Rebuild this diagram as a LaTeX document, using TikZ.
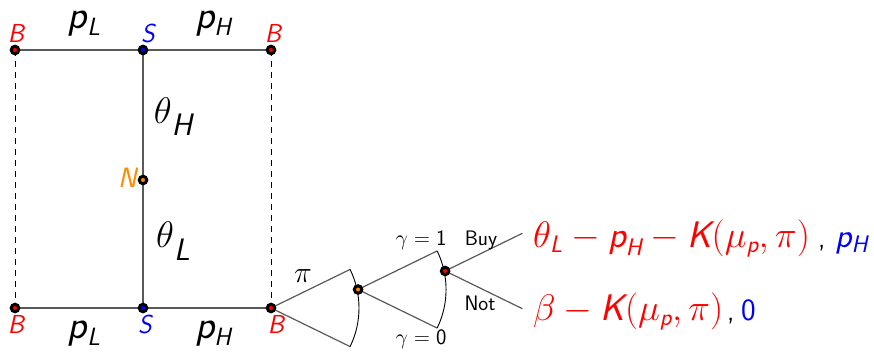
\RequirePackage{fix-cm}
\documentclass[tikz,border=0pt]{standalone}
\usepackage{amsmath}
\usepackage{fontspec}
\usetikzlibrary{calc}
\DeclareMathSizes{37}{37}{24}{18}
\newcommand\sv[1]{\text{\sffamily\itshape #1}}
% base, subscript text, subscript size, drop
\newcommand\tlab[4]{#1\raisebox{-#4}{\fontsize{#3}{#3}\selectfont\sffamily\itshape #2}}
\definecolor{orng}{RGB}{255,140,0}
\begin{document}
\begin{tikzpicture}[x=1pt,y=1pt,
  ln/.style={draw=black!65, line width=1.2pt},
  arcln/.style={draw=black, line width=0.9pt},
  dot/.style={circle, inner sep=0pt, minimum size=7.5pt, draw=black, line width=3pt, fill=#1},
  plab/.style={font=\fontsize{40}{42}\selectfont\sffamily\itshape, anchor=base, inner sep=0pt},
  tlab/.style={font=\fontsize{37}{39}\selectfont, anchor=base, inner sep=0pt},
  pay/.style={font=\fontsize{37}{40}\selectfont, anchor=base west, inner sep=0pt},
  lab/.style={font=\fontsize{26}{28}\selectfont\sffamily\itshape, anchor=base, inner sep=0pt},
  small/.style={font=\fontsize{21}{23}\selectfont\sffamily, anchor=base, inner sep=0pt},
  glab/.style={font=\fontsize{22}{24}\selectfont, anchor=base, inner sep=0pt}]
\useasboundingbox (0,0) rectangle (874,354);
% positions
\coordinate (pTL) at (15,304);
\coordinate (pTS) at (143,304);
\coordinate (pTR) at (271,304);
\coordinate (pN) at (143,174);
\coordinate (pBL) at (15,46);
\coordinate (pBS) at (143,46);
\coordinate (pBR) at (271,46);
\coordinate (pC) at ($(pBR)+(12:89)$);
\coordinate (pR) at ($(pC)+(12:89)$);
% branch ends
\coordinate (e1u) at ($(pBR)+(26:88)$);
\coordinate (e1d) at ($(pBR)+(-26:88)$);
\coordinate (e2u) at ($(pC)+(26:88)$);
\coordinate (e2d) at ($(pC)+(-26:88)$);
\coordinate (e3u) at ($(pR)+(26:86)$);
\coordinate (e3d) at ($(pR)+(-26:86)$);
% edges
\draw[ln] (pTL) -- (pTS) -- (pTR);
\draw[ln] (pBL) -- (pBS) -- (pBR);
\draw[ln] (pTS) -- (pBS);
\draw[black, line width=0.9pt, dash pattern=on 6pt off 5pt] (pTL) -- (pBL);
\draw[black, line width=0.9pt, dash pattern=on 6pt off 5pt] (pTR) -- (pBR);
\draw[ln] (e1u) -- (pBR) -- (e1d);
\draw[ln] (e2u) -- (pC) -- (e2d);
\draw[ln] (e3u) -- (pR) -- (e3d);
\draw[arcln] (e1u) arc[start angle=26, end angle=-26, radius=88];
\draw[arcln] (e2u) arc[start angle=26, end angle=-26, radius=88];
% dots
\node[dot=red] (TL) at (pTL) {};
\node[dot=blue] (TS) at (pTS) {};
\node[dot=red] (TR) at (pTR) {};
\node[dot=orng] (N) at (pN) {};
\node[dot=red] (BL) at (pBL) {};
\node[dot=blue] (BS) at (pBS) {};
\node[dot=red] (BR) at (pBR) {};
\node[dot=orng] (C) at (pC) {};
\node[dot=red] (R) at (pR) {};
% node labels
\node[lab, text=red] (lTL) at (16,311) {B};
\node[lab, text=blue] (lTS) at (148,311) {S};
\node[lab, text=red] (lTR) at (273,311) {B};
\node[lab, font=\fontsize{28}{30}\selectfont\sffamily\itshape, text=orng, anchor=base east] (lN) at (137,167) {N};
\node[lab, text=red] (lBL) at (16,21) {B};
\node[lab, text=blue] (lBS) at (145,21) {S};
\node[lab, text=red] (lBR) at (276,21) {B};
% edge labels
\node[plab] (tpL) at (84,325) {\tlab{p}{L}{25}{7pt}};
\node[plab] (tpH) at (213,325) {\tlab{p}{H}{25}{7pt}};
\node[plab] (bpL) at (84,16) {\tlab{p}{L}{25}{7pt}};
\node[plab] (bpH) at (213,16) {\tlab{p}{H}{25}{7pt}};
\node[tlab] (thH) at (173,231) {\tlab{$\theta$}{H}{31}{12pt}};
\node[tlab] (thL) at (173,107) {\tlab{$\theta$}{L}{31}{13pt}};
\node[font=\fontsize{30}{32}\selectfont, anchor=base, inner sep=0pt] (lpi) at (303,72) {$\pi$};
\node[glab] (g1) at (421,109) {$\gamma=\text{\sffamily 1}$};
\node[glab] (g0) at (421,10) {$\gamma=\text{\sffamily 0}$};
\node[small] (buy) at (481,109) {Buy};
\node[small] (not) at (480,44) {Not};
% payoffs
\node[pay, text=red] (pay1) at (533,107)
  {$\theta_{\sv{L}} - \sv{p}_{\sv{H}} - \sv{K}(\mu_{\sv{p}},\pi)$};
\node[font=\fontsize{28}{30}\selectfont\sffamily, anchor=base west, inner sep=0pt] (c1) at (818,107) {,};
\node[font=\fontsize{34}{36}\selectfont\sffamily\itshape, text=blue, anchor=base west, inner sep=0pt] (v1) at (835,107) {\tlab{p}{H}{24}{5pt}};
\node[pay, text=red] (pay2) at (533,34)
  {$\beta - \sv{K}(\mu_{\sv{p}},\pi)$};
\node[font=\fontsize{28}{30}\selectfont\sffamily, anchor=base west, inner sep=0pt] (c2) at (727,34) {,};
\node[font=\fontsize{31}{33}\selectfont\sffamily, text=blue, anchor=base west, inner sep=0pt] (v2) at (741,34) {0};
\end{tikzpicture}
\end{document}
